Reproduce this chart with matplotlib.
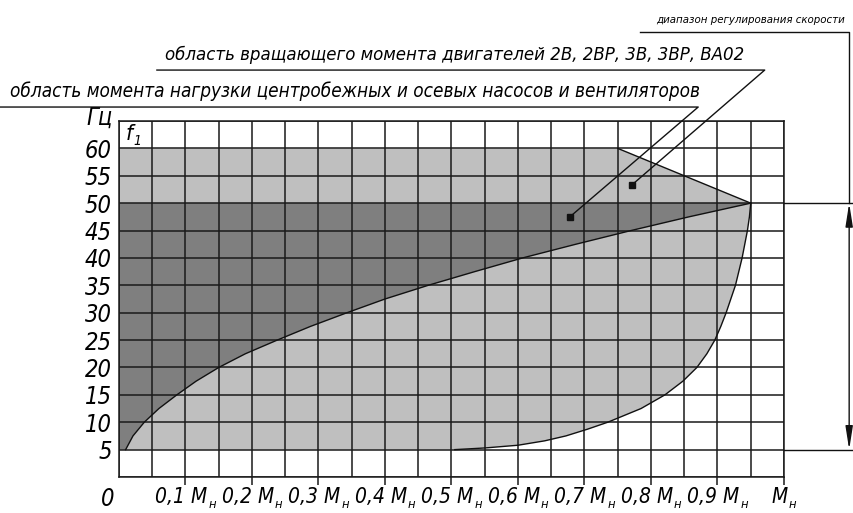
import matplotlib
matplotlib.use("Agg")
import matplotlib.pyplot as plt
from matplotlib import font_manager
from matplotlib.font_manager import FontProperties
from matplotlib.ft2font import FT2Font


def covers_cyrillic(path):
    try:
        cmap = FT2Font(path).get_charmap()
    except Exception:
        return False
    return all(ord(c) in cmap for c in "бвцщжГВн")


def weight_num(w):
    if isinstance(w, (int, float)):
        return w
    return font_manager.weight_dict.get(str(w), 400)


# narrow italic face for the drawing-style lettering, with Cyrillic
entries = font_manager.fontManager.ttflist
narrow = [f for f in entries
          if str(f.stretch) in ("condensed", "semi-condensed", "extra-condensed")
          or "Narrow" in f.name or "Condensed" in f.name
          or "Narrow" in f.fname or "Condensed" in f.fname]
narrow = [f for f in narrow if covers_cyrillic(f.fname)]
narrow.sort(key=lambda f: (f.style not in ("italic", "oblique"), abs(weight_num(f.weight) - 400)))
if narrow:
    FONT_FILE = narrow[0].fname
else:
    FONT_FILE = font_manager.findfont(FontProperties(family="DejaVu Sans", style="oblique"))


def fp(size):
    return FontProperties(fname=FONT_FILE, size=size)


# frequency axis, Hz
f_ticks = [5, 10, 15, 20, 25, 30, 35, 40, 45, 50, 55, 60]
# torque axis, fractions of rated torque
m_ticks = [0.1, 0.2, 0.3, 0.4, 0.5, 0.6, 0.7, 0.8, 0.9, 1.0]
m_labels = ["0,1 M", "0,2 M", "0,3 M", "0,4 M", "0,5 M", "0,6 M", "0,7 M", "0,8 M", "0,9 M", "M"]
m_sub = "н"

# load torque of centrifugal pumps and fans
fan_f = [5, 7.5, 10, 12.5, 15, 17.5, 20, 22.5, 25, 27.5, 30, 32.5, 35, 37.5, 40, 42.5, 45, 47.5, 50]
fan_m = [0.01, 0.021, 0.038, 0.06, 0.087, 0.116, 0.15, 0.19, 0.238, 0.288, 0.343, 0.40, 0.465,
         0.535, 0.607, 0.687, 0.77, 0.857, 0.95]

# permissible motor torque: constant-torque band, field-weakening edge, low-speed edge
motor_top_f = [60, 60, 50]
motor_top_m = [0.0, 0.75, 0.95]
motor_edge_f = [50, 47.5, 45, 42.5, 40, 37.5, 35, 32.5, 30, 27.5, 25, 22.5, 20, 17.5, 15,
                12.5, 10, 8.75, 7.5, 6.6, 5.8, 5.3, 5]
motor_edge_m = [0.95, 0.948, 0.945, 0.941, 0.937, 0.932, 0.927, 0.92, 0.913, 0.905, 0.896,
                0.884, 0.869, 0.848, 0.821, 0.785, 0.735, 0.705, 0.672, 0.64, 0.60, 0.55, 0.505]

# pointer marks
mark_motor = (0.771, 53.3)
mark_fan = (0.678, 47.5)

caption_fan = "область момента нагрузки центробежных и осевых насосов и вентиляторов"
caption_motor = "область вращающего момента двигателей 2В, 2ВР, 3В, 3ВР, ВА02"
caption_range = "диапазон регулирования скорости"

W, H = 854, 513
fig = plt.figure(figsize=(W / 100, H / 100), dpi=100)
ax = fig.add_axes([119 / W, (H - 477) / H, 665 / W, 356 / H])
ax.set_xlim(0, 1.0)
ax.set_ylim(0, 65)
renderer = fig.canvas.get_renderer()

light = "#bfbfbf"
dark = "#7f7f7f"
ink = "#111111"

# motor torque area
poly_m = [0.0] + motor_top_m + motor_edge_m[1:] + [0.0]
poly_f = [5] + motor_top_f + motor_edge_f[1:] + [5]
ax.fill(poly_m, poly_f, color=light, lw=0, zorder=1)

# load torque area, left of the fan curve up to 50 Hz
ax.fill([0.0] + fan_m + [0.0], [5] + fan_f + [50], color=dark, lw=0, zorder=1.1)

ax.plot(fan_m, fan_f, color=ink, lw=1.0, zorder=3)
ax.plot(motor_top_m[1:], motor_top_f[1:], color=ink, lw=1.0, zorder=3)
ax.plot(motor_edge_m, motor_edge_f, color=ink, lw=1.0, zorder=3)

# grid every 0.05 M and 5 Hz
ax.set_xticks(m_ticks)
ax.set_xticklabels([])
ax.set_yticks(f_ticks)
ax.set_yticklabels([str(v) for v in f_ticks], fontproperties=fp(17))
ax.set_xticks([i * 0.05 for i in range(21)], minor=True)
ax.set_yticks(list(range(0, 66, 5)), minor=True)
ax.grid(which="both", color="#1a1a1a", lw=1.1, zorder=2)
ax.set_axisbelow(False)
for s in ax.spines.values():
    s.set_color("#1a1a1a")
    s.set_linewidth(1.1)
    s.set_zorder(2.5)

ax.tick_params(axis="x", which="major", length=6, width=1.1, color="#1a1a1a")
ax.tick_params(axis="y", which="major", length=0, pad=5)
ax.tick_params(which="minor", length=0)


def with_sub(x, y, main, sub, size, **kw):
    t = ax.text(x, y, main, fontproperties=fp(size), clip_on=False, **kw)
    ax.annotate(sub, xy=(1.0, 0.0), xycoords=t, xytext=(0.5, -2.5), textcoords="offset points",
                fontproperties=fp(size * 0.62), ha="left", va="bottom", annotation_clip=False)
    return t


# torque labels under the grid
for m, lab in zip(m_ticks, m_labels):
    with_sub(m - 0.006, -1.9, lab, m_sub, 15, ha="center", va="top")

ax.text(-0.017, -1.9, "0", fontproperties=fp(17), ha="center", va="top", clip_on=False)
ax.text(-0.009, 65.6, "Гц", fontproperties=fp(17), ha="right", va="center", clip_on=False)
with_sub(0.010, 62.6, "f", "1", 16, ha="left", va="center")

ax.plot(*mark_motor, "s", color=ink, ms=5, zorder=4)
ax.plot(*mark_fan, "s", color=ink, ms=5, zorder=4)


def fitted(x, y, s, width_px, **kw):
    # scale the type so the caption spans the given width
    t = ax.text(x, y, s, fontproperties=fp(10), clip_on=False, **kw)
    w = t.get_window_extent(renderer).width
    t.set_fontproperties(fp(10 * width_px / w))
    return t


# captions with underline and leader to the marks
line_kw = dict(color=ink, lw=1.0, clip_on=False, zorder=4)
fitted(0.355, 69.4, caption_fan, 688, ha="center", va="baseline")
ax.plot([-0.2, 0.871, mark_fan[0]], [67.55, 67.55, mark_fan[1]], **line_kw)

fitted(0.505, 76.1, caption_motor, 580, ha="center", va="baseline")
ax.plot([0.057, 0.971, mark_motor[0]], [74.3, 74.3, mark_motor[1]], **line_kw)

fitted(0.950, 82.9, caption_range, 188, ha="center", va="baseline")
ax.plot([0.783, 1.098, 1.098], [81.25, 81.25, 50], **line_kw)

# speed control range dimension, 5..50 Hz
ax.plot([1.0, 1.12], [50, 50], **line_kw)
ax.plot([1.0, 1.12], [5, 5], **line_kw)
ax.annotate("", xy=(1.098, 5), xytext=(1.098, 50), xycoords="data", annotation_clip=False,
            arrowprops=dict(arrowstyle="<|-|>,head_length=1.4,head_width=0.22",
                            mutation_scale=10, color=ink, lw=1.0, shrinkA=0, shrinkB=0))

fig.savefig("out.png", dpi=100)
